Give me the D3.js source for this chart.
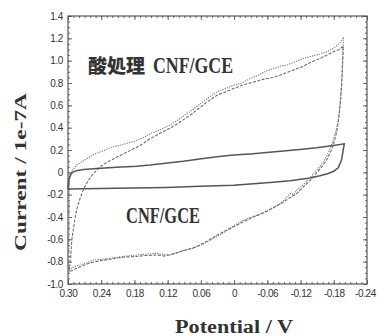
<!DOCTYPE html>
<html>
<head>
<meta charset="utf-8">
<script src="https://cdn.jsdelivr.net/npm/d3@7"></script>
<style>
  html, body { margin: 0; padding: 0; background: #fff; }
  svg { display: block; }
  .tick text { font-family: "Liberation Sans Narrow", "Arial Narrow", "Liberation Sans", Arial, sans-serif; font-size: 10px; letter-spacing: -0.4px; fill: #333; }
  .tick line { stroke: #666; }
</style>
</head>
<body>
<div id="chart"></div>
<script>
// ---- data (Potential V, Current 1e-7 A) ----
const xTicks = [0.30, 0.24, 0.18, 0.12, 0.06, 0, -0.06, -0.12, -0.18, -0.24];
const yTicks = [1.4, 1.2, 1.0, 0.8, 0.6, 0.4, 0.2, 0, -0.2, -0.4, -0.6, -0.8, -1.0];

const labelAcid = '酸処理';
const labelAcidEn = 'CNF/GCE';
const labelCnf = 'CNF/GCE';
const xTitle = 'Potential / V';
const yTitle = 'Current / 1e-7A';

// acid-treated CNF/GCE, cycle 1 (dotted)
const acidCycle1 = [
  [0.299,-0.86],[0.298,-0.30],[0.297,-0.02],[0.292,0.02],[0.283,0.07],[0.270,0.11],[0.254,0.16],
  [0.238,0.19],[0.224,0.22],[0.208,0.24],[0.194,0.26],[0.178,0.28],[0.164,0.31],[0.150,0.35],
  [0.134,0.38],[0.118,0.42],[0.104,0.46],[0.090,0.51],[0.075,0.56],[0.062,0.61],[0.046,0.67],
  [0.031,0.72],[0.016,0.75],[0.001,0.78],[-0.014,0.80],[-0.029,0.84],[-0.044,0.87],[-0.059,0.91],
  [-0.072,0.93],[-0.083,0.95],[-0.095,0.96],[-0.110,0.99],[-0.125,1.02],[-0.140,1.04],[-0.155,1.06],
  [-0.168,1.08],[-0.179,1.11],[-0.190,1.15],[-0.197,1.20],
  [-0.197,1.12],[-0.195,0.90],[-0.194,0.77],[-0.191,0.60],[-0.188,0.47],[-0.184,0.37],[-0.179,0.29],
  [-0.173,0.21],[-0.167,0.14],[-0.158,0.07],[-0.149,0.02],[-0.137,-0.05],[-0.125,-0.11],[-0.113,-0.16],
  [-0.108,-0.20],[-0.101,-0.19],[-0.092,-0.24],[-0.083,-0.28],[-0.065,-0.33],[-0.047,-0.37],
  [-0.032,-0.40],[-0.017,-0.43],[-0.002,-0.47],[0.013,-0.52],[0.029,-0.57],[0.044,-0.61],
  [0.059,-0.65],[0.074,-0.68],[0.092,-0.70],[0.104,-0.72],[0.116,-0.74],[0.128,-0.735],
  [0.140,-0.725],[0.152,-0.73],[0.164,-0.735],[0.176,-0.74],[0.194,-0.75],[0.210,-0.76],
  [0.224,-0.77],[0.240,-0.78],[0.254,-0.785],[0.266,-0.81],[0.278,-0.83],[0.290,-0.845],
  [0.296,-0.87],[0.299,-0.86]
];

// acid-treated CNF/GCE, cycle 2 (dashed)
const acidCycle2 = [
  [0.298,-0.89],[0.295,-0.75],[0.293,-0.60],[0.290,-0.50],[0.287,-0.40],[0.284,-0.33],[0.278,-0.23],
  [0.272,-0.15],[0.263,-0.07],[0.254,-0.01],[0.242,0.05],[0.230,0.09],[0.218,0.12],[0.206,0.15],
  [0.190,0.19],[0.170,0.24],[0.152,0.30],[0.134,0.35],[0.118,0.39],[0.104,0.43],[0.092,0.47],
  [0.077,0.52],[0.062,0.58],[0.046,0.64],[0.031,0.69],[0.016,0.72],[0.001,0.75],[-0.014,0.78],
  [-0.029,0.80],[-0.050,0.83],[-0.070,0.85],[-0.083,0.87],[-0.104,0.91],[-0.125,0.95],[-0.140,0.99],
  [-0.155,1.02],[-0.168,1.05],[-0.179,1.08],[-0.190,1.10],[-0.197,1.13],
  [-0.197,1.10],[-0.195,0.85],[-0.193,0.70],[-0.190,0.52],[-0.186,0.38],[-0.181,0.28],[-0.175,0.19],
  [-0.168,0.12],[-0.160,0.06],[-0.150,0.00],[-0.138,-0.07],[-0.125,-0.13],[-0.113,-0.19],
  [-0.100,-0.23],[-0.088,-0.27],[-0.070,-0.32],[-0.050,-0.37],[-0.030,-0.41],[-0.010,-0.46],
  [0.010,-0.51],[0.030,-0.56],[0.050,-0.62],[0.070,-0.67],[0.090,-0.70],[0.110,-0.73],[0.125,-0.75],
  [0.140,-0.74],[0.160,-0.745],[0.180,-0.755],[0.200,-0.76],[0.220,-0.775],[0.240,-0.79],
  [0.260,-0.81],[0.275,-0.84],[0.285,-0.86],[0.292,-0.88],[0.298,-0.89]
];

// untreated CNF/GCE (solid)
const cnfCycle = [
  [0.300,-0.15],[0.299,-0.08],[0.296,-0.03],[0.292,0.00],[0.285,0.015],[0.272,0.025],[0.248,0.035],
  [0.212,0.045],[0.176,0.055],[0.152,0.065],[0.128,0.08],[0.092,0.10],[0.062,0.12],[0.031,0.14],
  [0.001,0.155],[-0.029,0.165],[-0.059,0.178],[-0.089,0.19],[-0.119,0.205],[-0.149,0.22],
  [-0.179,0.24],[-0.199,0.255],
  [-0.197,0.20],[-0.194,0.11],[-0.188,0.04],[-0.180,0.01],[-0.170,-0.01],[-0.155,-0.03],
  [-0.137,-0.05],[-0.101,-0.075],[-0.065,-0.09],[-0.029,-0.105],[0.001,-0.115],[0.062,-0.125],
  [0.122,-0.135],[0.182,-0.14],[0.242,-0.145],[0.300,-0.15]
];

// ---- layout ----
const width = 378, height = 336;
const margin = { top: 16, right: 11, bottom: 52, left: 68 };
const innerW = width - margin.left - margin.right;
const innerH = height - margin.top - margin.bottom;

const svg = d3.select('#chart').append('svg')
  .attr('width', width)
  .attr('height', height);

const g = svg.append('g')
  .attr('transform', `translate(${margin.left},${margin.top})`);

const x = d3.scaleLinear().domain([0.30, -0.24]).range([0, innerW]);
const y = d3.scaleLinear().domain([-1.0, 1.4]).range([innerH, 0]);

const xFmt = d => d === 0 ? '0' : d3.format('.2f')(d).replace('\u2212', '-');
const yFmt = d => d === 0 ? '0' : d3.format('.1f')(d).replace('\u2212', '-');

const xMinor = d3.range(-24, 31, 1).map(v => v / 100);
const yMinor = d3.range(-20, 29, 1).map(v => v / 20);

// minor ticks, all four sides, pointing inward
g.append('g').attr('transform', `translate(0,${innerH})`)
  .call(d3.axisBottom(x).tickValues(xMinor).tickSize(-2).tickSizeOuter(0).tickFormat(''));
g.append('g')
  .call(d3.axisTop(x).tickValues(xMinor).tickSize(-2).tickSizeOuter(0).tickFormat(''));
g.append('g')
  .call(d3.axisLeft(y).tickValues(yMinor).tickSize(-2).tickSizeOuter(0).tickFormat(''));
g.append('g').attr('transform', `translate(${innerW},0)`)
  .call(d3.axisRight(y).tickValues(yMinor).tickSize(-2).tickSizeOuter(0).tickFormat(''));

// major ticks
const xAxis = g.append('g').attr('transform', `translate(0,${innerH})`)
  .call(d3.axisBottom(x).tickValues(xTicks).tickSize(-4).tickSizeOuter(0).tickPadding(6).tickFormat(xFmt));
g.append('g')
  .call(d3.axisTop(x).tickValues(xTicks).tickSize(-4).tickSizeOuter(0).tickFormat(''));
g.append('g')
  .call(d3.axisLeft(y).tickValues(yTicks).tickSize(-4).tickSizeOuter(0).tickPadding(5).tickFormat(yFmt));
g.append('g').attr('transform', `translate(${innerW},0)`)
  .call(d3.axisRight(y).tickValues(yTicks).tickSize(-4).tickSizeOuter(0).tickFormat(''));

// last x label sits near the page edge in the original
xAxis.selectAll('.tick text').filter(d => d === -0.24).attr('dx', '-2');

g.selectAll('.domain').remove();

g.append('rect')
  .attr('width', innerW).attr('height', innerH)
  .attr('fill', 'none').attr('stroke', '#555').attr('stroke-width', 1.2);

// ---- curves ----
const line = d3.line().x(d => x(d[0])).y(d => y(d[1]));

g.append('path').datum(acidCycle1)
  .attr('fill', 'none').attr('stroke', '#777').attr('stroke-width', 1.1)
  .attr('stroke-dasharray', '1.2,1.2')
  .attr('d', line);

g.append('path').datum(acidCycle2)
  .attr('fill', 'none').attr('stroke', '#6a6a6a').attr('stroke-width', 1.1)
  .attr('stroke-dasharray', '3,1.5')
  .attr('d', line);

g.append('path').datum(cnfCycle)
  .attr('fill', 'none').attr('stroke', '#555').attr('stroke-width', 1.5)
  .attr('d', line);

// ---- labels ----
const serif = '"Liberation Serif", "DejaVu Serif", serif';

svg.append('text')
  .attr('x', 88).attr('y', 73)
  .attr('font-family', '"Noto Sans CJK JP", sans-serif')
  .attr('font-weight', 900).attr('font-size', 19)
  .attr('fill', '#333')
  .text(labelAcid);

svg.append('text')
  .attr('x', 153).attr('y', 73)
  .attr('font-family', serif)
  .attr('font-weight', 'bold').attr('font-size', 23)
  .attr('textLength', 80).attr('lengthAdjust', 'spacingAndGlyphs')
  .attr('fill', '#333')
  .text(labelAcidEn);

svg.append('text')
  .attr('x', 126).attr('y', 223)
  .attr('font-family', serif)
  .attr('font-weight', 'bold').attr('font-size', 23)
  .attr('textLength', 74).attr('lengthAdjust', 'spacingAndGlyphs')
  .attr('fill', '#333')
  .text(labelCnf);

svg.append('text')
  .attr('x', 175).attr('y', 333)
  .attr('font-family', serif)
  .attr('font-weight', 'bold').attr('font-size', 18)
  .attr('textLength', 118).attr('lengthAdjust', 'spacingAndGlyphs')
  .attr('fill', '#333')
  .text(xTitle);

svg.append('text')
  .attr('transform', 'translate(26,172) rotate(-90)')
  .attr('text-anchor', 'middle')
  .attr('font-family', serif)
  .attr('font-weight', 'bold').attr('font-size', 17)
  .attr('textLength', 158).attr('lengthAdjust', 'spacingAndGlyphs')
  .attr('fill', '#333')
  .text(yTitle);
</script>
</body>
</html>
